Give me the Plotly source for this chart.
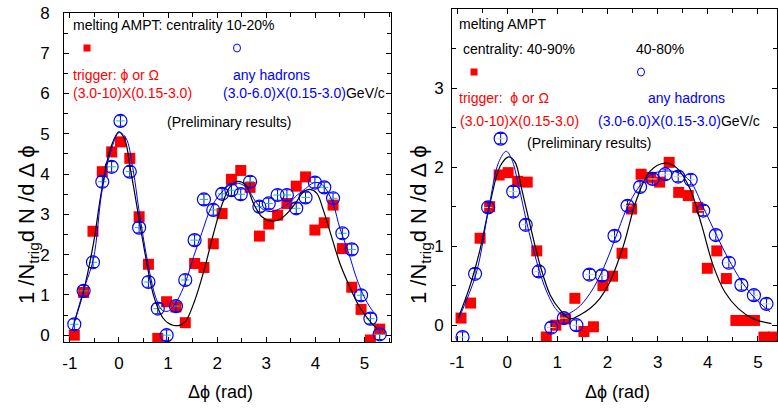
import plotly.graph_objects as go

# ---------------- data ----------------
# Left panel: melting AMPT, centrality 10-20%
left_bins = [-0.91, -0.72, -0.53, -0.34, -0.15, 0.03, 0.22, 0.41, 0.60, 0.79, 0.97, 1.16,
             1.35, 1.54, 1.73, 1.92, 2.10, 2.29, 2.48, 2.67, 2.86, 3.05, 3.23, 3.42,
             3.61, 3.80, 3.99, 4.18, 4.36, 4.55, 4.74, 4.93, 5.12, 5.31]
left_trigger = [0.00, 1.06, 2.58, 4.06, 4.55, 4.80, 4.39, 2.94, 1.76, -0.08, 0.83, 0.70,
                0.31, 1.78, 1.68, 2.27, 3.02, 3.87, 4.09, 3.67, 2.46, 2.76, 2.98, 3.27,
                3.70, 3.93, 2.61, 2.79, 3.23, 2.15, 1.19, 0.64, -0.12, 0.15]
left_hadrons = [0.27, 1.10, 1.81, 3.81, 4.18, 5.32, 4.06, 2.67, 1.32, 0.66, 0.00, 0.72,
                1.37, 2.36, 3.37, 3.11, 3.51, 3.60, 3.50, 3.81, 3.19, 3.27, 3.48, 3.48,
                3.15, 3.42, 3.79, 3.67, 3.40, 2.53, 2.13, 0.99, 0.41, 0.02]
left_fit_trig_x = [-0.91, -0.72, -0.52, -0.35, -0.17, 0.00, 0.12, 0.23, 0.33, 0.42, 0.52,
                   0.61, 0.70, 0.80, 0.90, 1.00, 1.12, 1.25, 1.36, 1.54, 1.73, 1.92, 2.10,
                   2.27, 2.41, 2.58, 2.74, 2.91, 3.08, 3.25, 3.42, 3.59, 3.76, 3.89, 4.03,
                   4.16, 4.33, 4.50, 4.67, 4.84, 5.01, 5.18, 5.25]
left_fit_trig_y = [0.32, 1.10, 2.28, 3.62, 4.65, 5.05, 4.85, 4.15, 3.45, 2.80, 2.10,
                   1.50, 1.00, 0.65, 0.42, 0.30, 0.24, 0.25, 0.35, 0.85, 1.60, 2.50, 3.25,
                   3.70, 3.82, 3.73, 3.27, 2.94, 2.84, 2.86, 3.02, 3.27, 3.56, 3.62, 3.52,
                   3.11, 2.44, 1.78, 1.28, 0.83, 0.50, 0.25, 0.17]
left_fit_had_x = [-0.95, -0.72, -0.52, -0.35, -0.17, 0.00, 0.14, 0.28, 0.41, 0.58, 0.75,
                  0.88, 1.01, 1.18, 1.35, 1.52, 1.69, 1.87, 2.07, 2.27, 2.44, 2.61, 2.78,
                  2.95, 3.12, 3.29, 3.46, 3.63, 3.80, 3.96, 4.10, 4.23, 4.37, 4.50, 4.67,
                  4.84, 5.01, 5.18, 5.25]
left_fit_had_y = [0.15, 1.12, 1.90, 3.55, 4.55, 5.03, 4.90, 4.16, 3.08, 1.84, 0.93,
                  0.62, 0.60, 0.85, 1.30, 1.95, 2.55, 3.15, 3.52, 3.74, 3.77, 3.65, 3.32,
                  3.11, 3.07, 3.15, 3.27, 3.48, 3.64, 3.78, 3.77, 3.60, 3.23, 2.65, 2.07,
                  1.41, 0.91, 0.58, 0.50]

# Right panel: melting AMPT, centrality 40-90% (trigger) / 40-80% (hadrons)
right_trig_bins = [-0.92, -0.73, -0.54, -0.35, -0.16, 0.02, 0.21, 0.40, 0.59, 0.78, 0.97,
                   1.16, 1.35, 1.53, 1.72, 1.91, 2.10, 2.29, 2.48, 2.67, 2.86, 3.04, 3.23,
                   3.42, 3.61, 3.80, 3.99, 4.18, 4.37, 4.56, 4.74, 4.93, 5.12, 5.31]
right_trigger = [0.09, 0.28, 1.10, 1.50, 1.90, 1.93, 1.82, 1.81, 0.94, -0.15, 0.00,
                 0.08, 0.34, -0.08, -0.02, 0.50, 0.62, 0.91, 1.47, 1.91, 1.87, 1.81, 2.06,
                 1.68, 1.64, 1.49, 0.72, 0.94, 0.59, 0.06, 0.06, 0.06, -0.15, -0.15]
right_had_bins = [-0.89, -0.64, -0.38, -0.13, 0.12, 0.37, 0.63, 0.88, 1.13, 1.38, 1.64,
                  1.89, 2.14, 2.40, 2.65, 2.90, 3.15, 3.41, 3.66, 3.91, 4.16, 4.42, 4.67,
                  4.92, 5.17]
right_hadrons = [-0.15, 0.65, 1.49, 2.36, 1.69, 1.27, 0.68, -0.03, 0.09, 0.00, 0.64,
                 0.63, 1.13, 1.51, 1.75, 1.85, 1.91, 1.88, 1.84, 1.45, 1.14, 0.79, 0.51,
                 0.38, 0.27]
right_fit_trig_x = [-0.97, -0.74, -0.54, -0.34, -0.14, 0.03, 0.16, 0.29, 0.46, 0.66, 0.86,
                    1.06, 1.25, 1.45, 1.65, 1.85, 2.05, 2.32, 2.58, 2.85, 3.15, 3.38, 3.65,
                    3.88, 4.11, 4.34, 4.61, 4.91, 5.27]
right_fit_trig_y = [0.10, 0.50, 0.96, 1.55, 2.01, 2.13, 2.06, 1.72, 1.26, 0.75, 0.38,
                    0.19, 0.08, 0.13, 0.21, 0.34, 0.55, 1.01, 1.59, 1.95, 2.05, 1.99, 1.72,
                    1.26, 0.75, 0.42, 0.21, 0.08, 0.02]
right_fit_had_x = [-0.97, -0.62, -0.37, -0.17, -0.02, 0.09, 0.23, 0.39, 0.59, 0.79, 0.99,
                   1.12, 1.39, 1.65, 1.92, 2.15, 2.38, 2.62, 2.88, 3.15, 3.41, 3.65, 3.91,
                   4.18, 4.41, 4.68, 4.94, 5.24]
right_fit_had_y = [0.08, 0.65, 1.47, 2.06, 2.20, 2.10, 1.76, 1.30, 0.80, 0.42, 0.19,
                   0.13, 0.21, 0.40, 0.72, 1.09, 1.47, 1.74, 1.91, 1.95, 1.93, 1.82, 1.49,
                   1.13, 0.84, 0.55, 0.34, 0.17]

x_ticks = [-1, 0, 1, 2, 3, 4, 5]
x_tick_labels = ["-1", "0", "1", "2", "3", "4", "5"]
left_y_ticks = [0, 1, 2, 3, 4, 5, 6, 7, 8]
right_y_ticks = [0, 1, 2, 3, 4]

# ---------------- styling ----------------
W, H = 778, 411
FONT = "Liberation Sans, Arial"
RED = "#ff0000"
BLUE = "#0000ff"


def px(x):
    return x / W


def py(y):
    return 1 - y / H


fig = go.Figure()


def add_panel(xa, ya, tx, ty, hx, hy, fx1, fy1, fx2, fy2, err):
    fig.add_trace(go.Scatter(x=tx, y=ty, mode="markers", xaxis=xa, yaxis=ya,
                             marker=dict(symbol="square", size=11, color=RED),
                             showlegend=False))
    fig.add_trace(go.Scatter(x=hx, y=hy, mode="markers", xaxis=xa, yaxis=ya,
                             marker=dict(symbol="circle-open", size=13, color=BLUE,
                                         line=dict(width=1.2, color=BLUE)),
                             error_y=dict(type="constant", value=err, color=BLUE,
                                          thickness=1, width=3),
                             showlegend=False))
    fig.add_trace(go.Scatter(x=hx, y=hy, mode="markers", xaxis=xa, yaxis=ya,
                             marker=dict(symbol="line-ew-open", size=6,
                                         line=dict(width=1, color=BLUE)),
                             showlegend=False))
    fig.add_trace(go.Scatter(x=fx1, y=fy1, mode="lines", xaxis=xa, yaxis=ya,
                             line=dict(color="black", width=1.2, shape="spline",
                                       smoothing=1.0),
                             showlegend=False))
    fig.add_trace(go.Scatter(x=fx2, y=fy2, mode="lines", xaxis=xa, yaxis=ya,
                             line=dict(color=BLUE, width=1, shape="spline",
                                       smoothing=1.0),
                             showlegend=False))


add_panel("x", "y", left_bins, left_trigger, left_bins, left_hadrons,
          left_fit_trig_x, left_fit_trig_y, left_fit_had_x, left_fit_had_y, 0.13)
add_panel("x2", "y2", right_trig_bins, right_trigger, right_had_bins, right_hadrons,
          right_fit_trig_x, right_fit_trig_y, right_fit_had_x, right_fit_had_y, 0.065)

axis_common = dict(showline=True, linecolor="black", linewidth=1, mirror="allticks",
                   ticks="inside", ticklen=5, tickcolor="black", tickwidth=1,
                   showgrid=False, zeroline=False, automargin=False,
                   tickfont=dict(family=FONT, size=17, color="black"),
                   minor=dict(ticks="inside", ticklen=4, dtick=0.5, tickcolor="black",
                              showgrid=False))

fig.update_layout(
    width=W, height=H,
    margin=dict(l=0, r=0, t=0, b=0, autoexpand=False),
    paper_bgcolor="white", plot_bgcolor="white",
    font=dict(family=FONT, color="black"),
    xaxis=dict(domain=[px(64), px(391)], range=[-1.12, 5.54], tickvals=x_ticks,
               ticktext=x_tick_labels, anchor="y", ticklabelstandoff=6, **axis_common),
    yaxis=dict(domain=[py(342), py(13)], range=[-0.17, 8.0], tickvals=left_y_ticks,
               anchor="x", ticklabelstandoff=10, **axis_common),
    xaxis2=dict(domain=[px(452), px(777)], range=[-1.1, 5.38], tickvals=x_ticks,
                ticktext=x_tick_labels, anchor="y2", ticklabelstandoff=6, **axis_common),
    yaxis2=dict(domain=[py(341), py(9)], range=[-0.2, 4.0], tickvals=right_y_ticks,
                anchor="x2", ticklabelstandoff=4, **axis_common),
)

ann = []


def text(x, y, s, color="black", size=14):
    ann.append(dict(x=px(x), y=py(y), xref="paper", yref="paper", text=s,
                    showarrow=False, xanchor="left", yanchor="middle", borderpad=0,
                    font=dict(family=FONT, size=size, color=color)))


# left panel texts
text(72, 25, "melting AMPT: centrality 10-20%")
text(72, 75, "trigger: ϕ or Ω", RED)
text(72, 93, "(3.0-10)X(0.15-3.0)", RED)
text(232, 75, "any hadrons", BLUE)
text(222, 93, "<span style='color:#0000ff'>(3.0-6.0)X(0.15-3.0)</span>GeV/c")
text(166, 122, "(Preliminary results)")
# right panel texts
text(458, 24, "melting AMPT")
text(462, 49, "centrality: 40-90%")
text(635, 49, "40-80%")
text(458, 98, "trigger:  ϕ or Ω", RED)
text(647, 98, "any hadrons", BLUE)
text(459, 121, "(3.0-10)X(0.15-3.0)", RED)
text(597, 121, "<span style='color:#0000ff'>(3.0-6.0)X(0.15-3.0)</span>GeV/c")
text(526, 143, "(Preliminary results)")

# axis titles
ytitle = "1 /N<sub>trig</sub>d N /d Δ ϕ"
for xc in (28, 420):
    ann.append(dict(x=px(xc), y=py(225), xref="paper", yref="paper", text=ytitle,
                    showarrow=False, textangle=-90, xanchor="center", yanchor="middle",
                    font=dict(family=FONT, size=22, color="black")))
for xc in (220, 617):
    ann.append(dict(x=px(xc), y=py(392), xref="paper", yref="paper", text="Δϕ (rad)",
                    showarrow=False, xanchor="center", yanchor="middle",
                    font=dict(family=FONT, size=18, color="black")))
fig.update_layout(annotations=ann)

# legend symbols
shapes = []
for cx, cy in ((87, 48), (474, 72)):
    shapes.append(dict(type="rect", xref="paper", yref="paper",
                       x0=px(cx - 3.5), x1=px(cx + 3.5), y0=py(cy + 3.5), y1=py(cy - 3.5),
                       fillcolor=RED, line=dict(width=0)))
for cx, cy in ((237, 48), (641, 72)):
    shapes.append(dict(type="circle", xref="paper", yref="paper",
                       x0=px(cx - 3.5), x1=px(cx + 3.5), y0=py(cy + 4), y1=py(cy - 4),
                       line=dict(color=BLUE, width=1)))
fig.update_layout(shapes=shapes)

fig.write_html("out.html",
               config={"displayModeBar": False},
               post_script="document.body.style.margin='0px';"
                           "document.body.style.overflow='hidden';")
